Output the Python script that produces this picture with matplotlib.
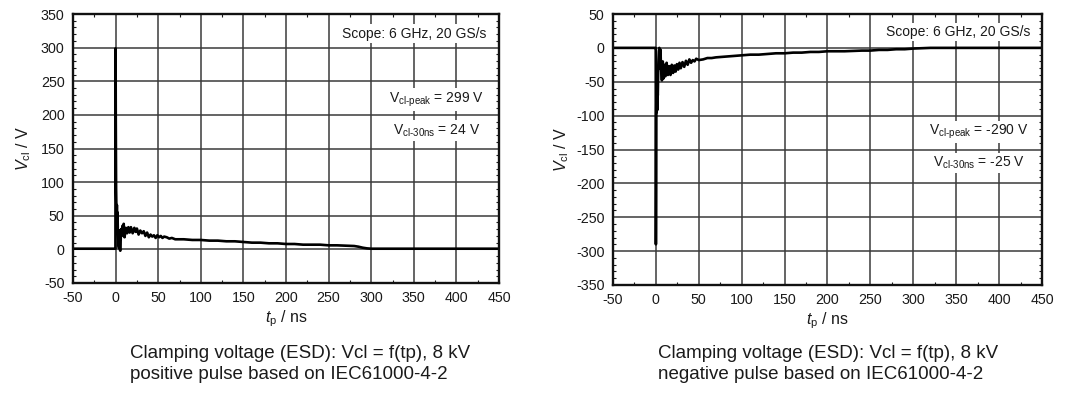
import matplotlib
matplotlib.use("Agg")
import matplotlib.pyplot as plt
from matplotlib.ticker import MultipleLocator

plt.rcParams['font.family'] = ['Liberation Sans', 'DejaVu Sans']
plt.rcParams['mathtext.fontset'] = 'custom'
plt.rcParams['mathtext.rm'] = 'Liberation Sans'
plt.rcParams['mathtext.it'] = 'Liberation Sans:italic'
plt.rcParams['axes.unicode_minus'] = False

# ---- data: positive pulse ----
t_pos = [-50, -40, -30, -20, -10, -1, -0.2, 0.0, 0.2, 0.4, 0.6, 0.9, 1.2, 1.5, 1.8, 2.2,
         2.6, 3.0, 3.5, 4.0, 4.5, 5.0, 5.5, 6.0, 6.5, 7.0, 8.0, 9.0, 9.5, 10.5, 12, 13.5,
         15, 16.5, 18, 20, 22, 23.5, 25, 27, 29, 31, 33, 35, 37, 39, 41, 43, 45, 47,
         49, 51, 53, 55, 57, 60, 63, 66, 70, 75, 80, 90, 100, 110, 120, 130, 140, 150,
         160, 170, 180, 190, 200, 210, 220, 230, 240, 250, 260, 270, 280, 285, 290,
         295, 300, 320, 340, 360, 380, 400, 420, 440, 450]
v_pos = [1, 1, 1, 1, 1, 1, 1, 299, 200, 140, 90, 65, 40, 66, 35, 55,
         30, 20, 5, 2, 28, 0, -2, 15, 30, 22, 35, 20, 38, 18, 32, 24,
         33, 25, 33, 24, 32, 26, 31, 22, 28, 24, 27, 20, 25, 18, 22, 19, 21, 17,
         21, 18, 20, 17, 19, 18, 16, 17, 15, 15, 15, 14, 14, 13, 13, 12, 12, 11,
         10, 10, 9, 9, 8, 8, 7, 7, 7, 6, 6, 5.5, 5, 4, 2.5,
         1.5, 1, 1, 1, 1, 1, 1, 1, 1, 1]

# ---- data: negative pulse ----
t_neg = [-50, -40, -30, -20, -10, -1, -0.2, 0.0, 0.2, 0.4, 0.6, 0.9, 1.2, 1.5, 1.8, 2.2,
         2.6, 3.0, 3.5, 4.0, 4.5, 5.0, 5.5, 6.0, 7.0, 8.0, 9.0, 10.0, 11.0, 12.5, 14,
         15.5, 17, 18.5, 20, 21.5, 23, 24.5, 26, 27.5, 29, 31, 33, 35, 37, 39, 41, 43,
         45, 47, 50, 55, 60, 65, 70, 80, 90, 100, 110, 120, 130, 140, 150, 160, 170,
         180, 190, 200, 220, 240, 250, 260, 270, 280, 290, 300, 320, 350, 380, 400,
         420, 440, 450]
v_neg = [0, 0, 0, 0, 0, 0, 0, -290, -210, -100, -60, -95, -60, -92, -65, -70,
         -40, -20, -5, 0, -30, -2, -10, -30, -48, -20, -45, -25, -42, -22, -40,
         -27, -40, -25, -37, -26, -35, -24, -32, -22, -30, -21, -28, -19, -25, -17, -22, -18,
         -20, -16, -18, -17, -15, -15, -14, -13, -12, -11, -10, -10, -9, -8, -8, -7, -7,
         -6, -6, -5, -5, -4, -4, -3, -3, -2, -2, -1, 0, 0, 0, 0,
         0, 0, 0]

x_ticks = [-50, 0, 50, 100, 150, 200, 250, 300, 350, 400, 450]
pos_yticks = [-50, 0, 50, 100, 150, 200, 250, 300, 350]
neg_yticks = [-350, -300, -250, -200, -150, -100, -50, 0, 50]

TXT = '#1a1a1a'

fig = plt.figure(figsize=(10.8, 3.96), dpi=100)
W, H = 1080, 396

def make_ax(x0, x1, ytop, ybot):
    return fig.add_axes([x0 / W, (H - ybot) / H, (x1 - x0) / W, (ybot - ytop) / H])

ax1 = make_ax(73, 499, 14, 283)
ax2 = make_ax(613, 1042, 14, 285)

def style(ax, yticks):
    ax.set_xlim(-50, 450)
    ax.set_ylim(yticks[0], yticks[-1])
    ax.set_xticks(x_ticks)
    ax.set_yticks(yticks)
    ax.xaxis.set_minor_locator(MultipleLocator(25))
    ax.yaxis.set_minor_locator(MultipleLocator(10))
    ax.grid(True, which='major', color='#3a3a3a', linewidth=1.1)
    ax.set_axisbelow(True)
    ax.tick_params(which='both', direction='in', top=True, right=True, labelsize=10.3,
                   colors=TXT)
    ax.tick_params(which='major', length=0, pad=6)
    ax.tick_params(which='minor', length=2.5, width=0.8)
    for s in ax.spines.values():
        s.set_linewidth(1.7)
        s.set_color('#111111')
    ax.set_xlabel(r'$t_{\mathrm{p}}$ / ns', fontsize=11.5, labelpad=2, color=TXT)

style(ax1, pos_yticks)
style(ax2, neg_yticks)

ax1.plot(t_pos, v_pos, color='black', linewidth=1.9)
ax2.plot(t_neg, v_neg, color='black', linewidth=1.9)

ax1.set_ylabel(r'$V_{\mathrm{cl}}$ / V', fontsize=11.5, labelpad=6, color=TXT)
ax2.set_ylabel(r'$V_{\mathrm{cl}}$ / V', fontsize=11.5, labelpad=4, color=TXT)

bbox = dict(facecolor='white', edgecolor='none', pad=1.5)
fs = 10
ax1.text(435, 321, 'Scope: 6 GHz, 20 GS/s', ha='right', va='center', fontsize=fs,
         bbox=bbox, color=TXT)
ax1.text(432, 223, r'V$_{\text{cl-peak}}$ = 299 V', ha='right', va='center', fontsize=fs,
         bbox=bbox, color=TXT)
ax1.text(428, 177, r'V$_{\text{cl-30ns}}$ = 24 V', ha='right', va='center', fontsize=fs,
         bbox=bbox, color=TXT)

ax2.text(437, 23, 'Scope: 6 GHz, 20 GS/s', ha='right', va='center', fontsize=fs,
         bbox=bbox, color=TXT)
ax2.text(435, -124, r'V$_{\text{cl-peak}}$ = -290 V', ha='right', va='center', fontsize=fs,
         bbox=bbox, color=TXT)
ax2.text(430, -170, r'V$_{\text{cl-30ns}}$ = -25 V', ha='right', va='center', fontsize=fs,
         bbox=bbox, color=TXT)

cap_y = (H - 364) / H
fig.text(130 / W, cap_y, 'Clamping voltage (ESD): Vcl = f(tp), 8 kV\npositive pulse based on IEC61000-4-2',
         ha='left', va='center', fontsize=13.5, linespacing=1.28, color=TXT)
fig.text(658 / W, cap_y, 'Clamping voltage (ESD): Vcl = f(tp), 8 kV\nnegative pulse based on IEC61000-4-2',
         ha='left', va='center', fontsize=13.5, linespacing=1.28, color=TXT)

fig.savefig('out.png', dpi=100)
